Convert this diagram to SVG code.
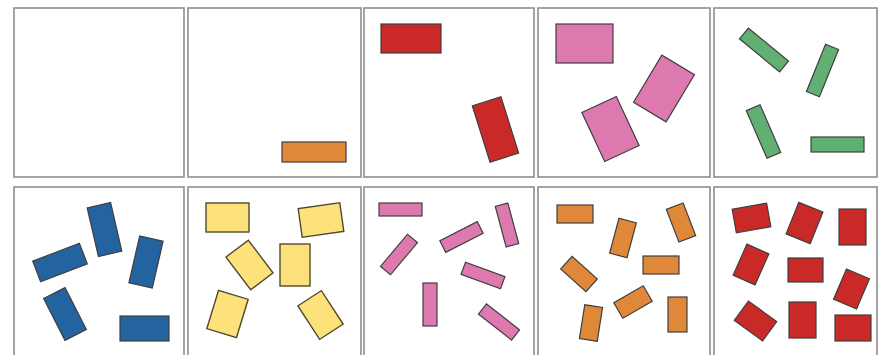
<svg xmlns="http://www.w3.org/2000/svg" width="879" height="355" viewBox="0 0 879 355">
<style>
.frame{fill:#fff;stroke:#8e8e8e;stroke-width:1.6}
.s{stroke:#3f3f3f;stroke-width:1.2}
.orange{fill:#E0883A}
.red{fill:#C92A28}
.pink{fill:#DE79B0}
.green{fill:#62AF74}
.blue{fill:#2364A0}
.yellow{fill:#FDE27C;stroke:#4f4a2c;stroke-width:1.4}
</style>
<rect width="879" height="355" fill="#fff"/>
<g id="panel-1"><rect class="frame" x="14" y="8" width="170" height="169"/></g>
<g id="panel-2"><rect class="frame" x="188" y="8" width="173" height="169"/>
<rect class="s orange" x="282" y="142" width="64" height="20"/></g>
<g id="panel-3"><rect class="frame" x="364" y="8" width="170" height="169"/>
<rect class="s red" x="381" y="24" width="60" height="29"/>
<rect class="s red" x="480.5" y="100" width="30" height="59" transform="rotate(-17.5 495.5 129.5)"/></g>
<g id="panel-4"><rect class="frame" x="538" y="8" width="172" height="169"/>
<rect class="s pink" x="556" y="24" width="57" height="39"/>
<rect class="s pink" x="591.5" y="102" width="38" height="54" transform="rotate(-25 610.5 129)"/>
<rect class="s pink" x="645" y="61" width="38" height="55" transform="rotate(31 664 88.5)"/></g>
<g id="panel-5"><rect class="frame" x="714" y="8" width="163" height="169"/>
<rect class="s green" x="738" y="43" width="52" height="14" transform="rotate(39.5 764 50)"/>
<rect class="s green" x="815.5" y="45" width="14" height="51" transform="rotate(22 822.5 70.5)"/>
<rect class="s green" x="756" y="105.5" width="15" height="52" transform="rotate(-23.5 763.5 131.5)"/>
<rect class="s green" x="811" y="137" width="53" height="15"/></g>
<g id="panel-6"><rect class="frame" x="14" y="187" width="170" height="175"/>
<rect class="s blue" x="35" y="251.5" width="50" height="22" transform="rotate(-21 60 262.5)"/>
<rect class="s blue" x="92.5" y="204.5" width="24" height="50" transform="rotate(-13 104.5 229.5)"/>
<rect class="s blue" x="134" y="238" width="24" height="48" transform="rotate(13 146 262)"/>
<rect class="s blue" x="53" y="290.5" width="24" height="47" transform="rotate(-27 65 314)"/>
<rect class="s blue" x="120" y="316" width="49" height="25"/></g>
<g id="panel-7"><rect class="frame" x="188" y="187" width="173" height="175"/>
<rect class="yellow" x="206" y="203" width="43" height="29"/>
<rect class="yellow" x="300" y="205.5" width="42" height="29" transform="rotate(-8 321 220)"/>
<rect class="yellow" x="235.5" y="244.5" width="28" height="41" transform="rotate(-37 249.5 265)"/>
<rect class="yellow" x="280" y="244" width="30" height="42"/>
<rect class="yellow" x="212" y="294" width="31" height="40" transform="rotate(17 227.5 314)"/>
<rect class="yellow" x="306.5" y="295" width="28" height="40" transform="rotate(-33 320.5 315)"/></g>
<g id="panel-8"><rect class="frame" x="364" y="187" width="170" height="175"/>
<rect class="s pink" x="379" y="203" width="43" height="13"/>
<rect class="s pink" x="378" y="248" width="42" height="13" transform="rotate(-50 399 254.5)"/>
<rect class="s pink" x="440.5" y="230.5" width="42" height="13" transform="rotate(-27 461.5 237)"/>
<rect class="s pink" x="500.5" y="204" width="13" height="42" transform="rotate(-15 507 225)"/>
<rect class="s pink" x="462" y="269" width="42" height="13" transform="rotate(20 483 275.5)"/>
<rect class="s pink" x="423" y="283" width="14" height="43"/>
<rect class="s pink" x="478" y="315.5" width="42" height="13" transform="rotate(38 499 322)"/></g>
<g id="panel-9"><rect class="frame" x="538" y="187" width="172" height="175"/>
<rect class="s orange" x="557" y="205" width="36" height="18"/>
<rect class="s orange" x="614" y="220" width="18" height="36" transform="rotate(15 623 238)"/>
<rect class="s orange" x="672" y="205" width="18" height="35" transform="rotate(-21 681 222.5)"/>
<rect class="s orange" x="643" y="256" width="36" height="18"/>
<rect class="s orange" x="562" y="265.5" width="34" height="17" transform="rotate(42 579 274)"/>
<rect class="s orange" x="616" y="293" width="34" height="18" transform="rotate(-30 633 302)"/>
<rect class="s orange" x="582" y="306" width="18" height="34" transform="rotate(9 591 323)"/>
<rect class="s orange" x="668" y="297" width="19" height="35"/></g>
<g id="panel-10"><rect class="frame" x="714" y="187" width="163" height="175"/>
<rect class="s red" x="734" y="206" width="35" height="24" transform="rotate(-10 751.5 218)"/>
<rect class="s red" x="791.5" y="206" width="26" height="34" transform="rotate(22 804.5 223)"/>
<rect class="s red" x="839" y="209" width="27" height="36"/>
<rect class="s red" x="739" y="247.5" width="24" height="34" transform="rotate(24 751 264.5)"/>
<rect class="s red" x="788" y="258" width="35" height="24"/>
<rect class="s red" x="839" y="272.5" width="25" height="33" transform="rotate(23 851.5 289)"/>
<rect class="s red" x="738" y="309" width="35" height="24" transform="rotate(36 755.5 321)"/>
<rect class="s red" x="789" y="302" width="27" height="36"/>
<rect class="s red" x="835" y="315" width="36" height="26"/></g>
</svg>
